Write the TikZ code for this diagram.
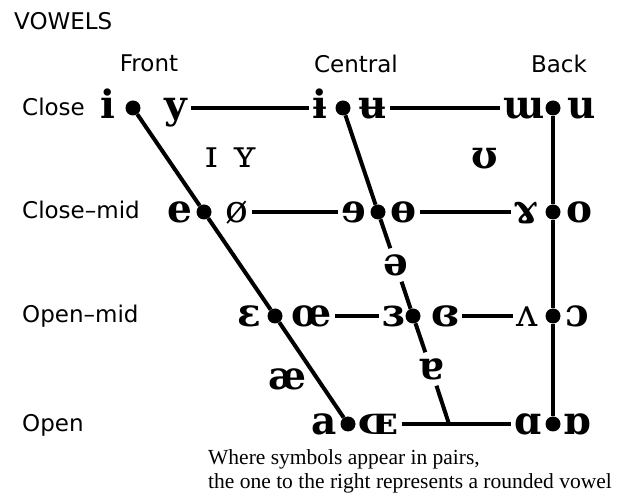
\documentclass[tikz,border=0pt]{standalone}
\usepackage{fontspec}
\setmainfont{DejaVu Sans}
\newfontfamily\ipafont{DejaVu Serif}
\newfontfamily\notefont{Liberation Serif}
\usetikzlibrary{positioning}

\begin{document}
\begin{tikzpicture}[x=1pt, y=-1pt,
    lbl/.style={font=\fontsize{23}{23}\selectfont, anchor=base west, inner sep=0pt},
    hdr/.style={font=\fontsize{23}{23}\selectfont, anchor=base, inner sep=0pt},
    vowel/.style={font=\ipafont\bfseries\fontsize{39}{39}\selectfont, text height=21pt, text depth=0pt, inner xsep=3pt, inner ysep=6pt},
    thin/.style={vowel, font=\ipafont\fontsize{38}{38}\selectfont},
    dot/.style={circle, fill=black, minimum size=15pt, inner sep=0pt},
    line/.style={line width=4pt},
    note/.style={font=\notefont\fontsize{21.5}{24}\selectfont, anchor=base west, inner sep=0pt}]
\useasboundingbox (0,0) rectangle (625,494);
% titles
\node[lbl] (title) at (14,30) {VOWELS};
\node[hdr] (front) at (149,72) {Front};
\node[hdr] (central) at (356,73) {Central};
\node[hdr] (back) at (559,73) {Back};
\node[lbl] (close) at (22,116) {Close};
\node[lbl] (closemid) at (22,219) {Close–mid};
\node[lbl] (openmid) at (22,323) {Open–mid};
\node[lbl] (open) at (22,432) {Open};
% dots
\node[dot] (fc) at (133,108) {};
\node[dot] (fcm) at (204,212) {};
\node[dot] (fom) at (275,316) {};
\node[dot] (fo) at (348,424) {};
\node[dot] (cc) at (343,108) {};
\node[dot] (ccm) at (378,212) {};
\node[dot] (com) at (413,316) {};
\coordinate (j) at (449,424);
\node[dot] (bc) at (553,108) {};
\node[dot] (bcm) at (553,212) {};
\node[dot] (bom) at (553,316) {};
\node[dot] (bo) at (553,424) {};
% close
\node[vowel] (ii) at (108,108) {i};
\node[vowel] (yy) at (176,108) {y};
\node[vowel] (ibar) at (320,108) {ɨ};
\node[vowel] (ubar) at (373,108) {ʉ};
\node[vowel] (wturn) at (524,108) {ɯ};
\node[vowel] (uu) at (582,108) {u};
% near-close
\node[thin] (smallI) at (212,157) {ɪ};
\node[thin] (smallY) at (245,157) {ʏ};
\node[vowel] (upsilon) at (485,158) {ʊ};
% close-mid
\node[vowel] (ee) at (180,212) {e};
\node[thin] (oslash) at (237,212) {ø};
\node[vowel] (revE) at (354,212) {ɘ};
\node[vowel] (obar) at (404,212) {ɵ};
\node[vowel] (ramshorn) at (526,212) {ɤ};
\node[vowel] (oo) at (580,212) {o};
\node[vowel] (schwa) at (396,265) {ə};
% open-mid
\node[vowel] (eps) at (249,316) {ɛ};
\node[vowel] (oe) at (312,316) {œ};
\node[vowel] (reveps) at (393,316) {ɜ};
\node[vowel] (cloeps) at (445,316) {ɞ};
\node[thin] (vturn) at (527,316) {ʌ};
\node[vowel] (oopen) at (577,316) {ɔ};
\node[vowel] (ash) at (288,379) {æ};
\node[vowel] (turna) at (431,369) {ɐ};
% open
\node[vowel] (aa) at (324,424) {a};
\node[vowel] (OE) at (378,424) {ɶ};
\node[vowel] (alpha) at (528,424) {ɑ};
\node[vowel] (turnalpha) at (577,424) {ɒ};
% lines
\draw[line] (fc) -- (fcm) -- (fom) -- (fo);
\draw[line] (cc) -- (ccm) -- (schwa) -- (com) -- (turna) -- (j);
\draw[line] (bc) -- (bcm) -- (bom) -- (bo);
\draw[line] (yy) -- (ibar);
\draw[line] (ubar) -- (wturn);
\draw[line] (oslash) -- (revE);
\draw[line] (obar) -- (ramshorn);
\draw[line] (oe) -- (reveps);
\draw[line] (cloeps) -- (vturn);
\draw[line] (OE) -- (alpha);
% note
\node[note] (note1) at (208,465) {Where symbols appear in pairs,};
\node[note] (note2) at (208,489) {the one to the right represents a rounded vowel};
\end{tikzpicture}
\end{document}
